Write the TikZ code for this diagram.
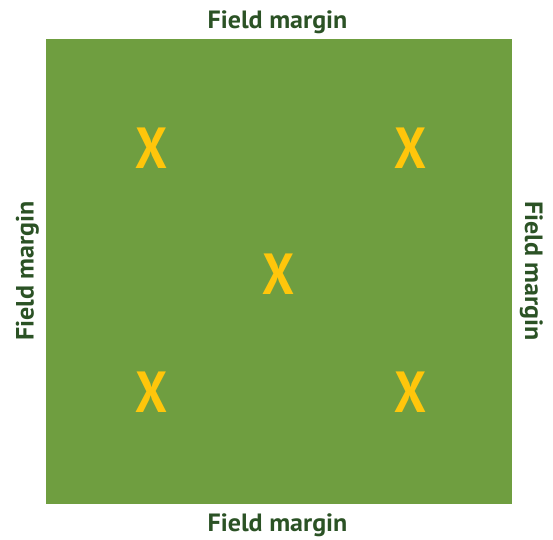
\documentclass[tikz,border=0pt]{standalone}
\usepackage{fontspec}
\setmainfont{PT Sans}
\definecolor{field}{HTML}{6F9E40}
\definecolor{margintext}{HTML}{2B5225}
\definecolor{markgold}{HTML}{FFC60B}
\tikzset{
  margin/.style={font=\bfseries\fontsize{25}{30}\selectfont, text=margintext, inner sep=0pt, anchor=base},
  plotmark/.style={font=\bfseries\fontsize{58}{60}\selectfont, text=markgold, inner sep=0pt}
}
\begin{document}
\begin{tikzpicture}[x=1pt,y=-1pt]
\useasboundingbox (0,0) rectangle (553,539);
\fill[field] (46,39) rectangle (512,504);
\node[margin] (top) at (277.5,28) {\scalebox{1.04}[1]{Field margin}};
\node[margin] (bottom) at (277.5,531.5) {\scalebox{1.04}[1]{Field margin}};
\node[margin, rotate=90] (left) at (33.5,271) {\scalebox{1.04}[1]{Field margin}};
\node[margin, rotate=-90] (right) at (525,271) {\scalebox{1.04}[1]{Field margin}};
\node[plotmark] (x1) at (151,148.5) {\scalebox{0.87}[1]{X}};
\node[plotmark] (x2) at (410,148.5) {\scalebox{0.87}[1]{X}};
\node[plotmark] (x3) at (278,274.5) {\scalebox{0.87}[1]{X}};
\node[plotmark] (x4) at (151,392) {\scalebox{0.87}[1]{X}};
\node[plotmark] (x5) at (410,392) {\scalebox{0.87}[1]{X}};
\end{tikzpicture}
\end{document}
